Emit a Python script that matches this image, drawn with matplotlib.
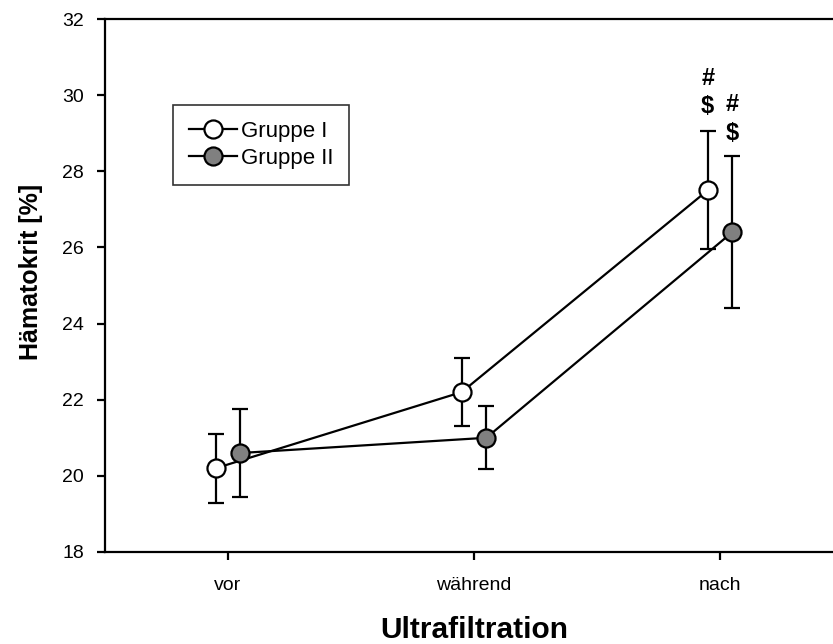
import matplotlib.pyplot as plt
from matplotlib.lines import Line2D
import numpy as np

plt.rcParams['font.family'] = ['Liberation Sans', 'DejaVu Sans']

# data
phases = ['vor', 'während', 'nach']
gruppe1_mean = [20.2, 22.2, 27.5]
gruppe1_err = [0.9, 0.9, 1.55]
gruppe2_mean = [20.6, 21.0, 26.4]
gruppe2_err = [1.15, 0.83, 2.0]

x = np.arange(1, len(phases) + 1)
offset = 0.05

fig = plt.figure(figsize=(8.33, 6.44), dpi=100)
ax = fig.add_axes([105 / 833, (644 - 552) / 644, (843 - 105) / 833, (552 - 19) / 644])

style = dict(color='black', lw=1.6, marker='o', ms=13, mec='black', mew=1.6)
ax.errorbar(x - offset, gruppe1_mean, yerr=gruppe1_err, mfc='white',
            capsize=5.8, capthick=1.6, elinewidth=1.6, zorder=3, **style)
ax.errorbar(x + offset, gruppe2_mean, yerr=gruppe2_err, mfc='#808080',
            capsize=5.8, capthick=1.6, elinewidth=1.6, zorder=3, **style)

# significance marks above "nach"
ax.text(x[2] - offset, 30.45, '#', ha='center', va='center', fontsize=17, fontweight='bold')
ax.text(x[2] - offset, 29.7, '$', ha='center', va='center', fontsize=17, fontweight='bold')
ax.text(x[2] + offset, 29.75, '#', ha='center', va='center', fontsize=17, fontweight='bold')
ax.text(x[2] + offset, 29.0, '$', ha='center', va='center', fontsize=17, fontweight='bold')

ax.set_xlim(0.5, 3.5)
ax.set_ylim(18, 32)
ax.set_yticks(np.arange(18, 33, 2))
ax.set_xticks(x)
ax.set_xticklabels(phases)
ax.tick_params(axis='both', direction='out', length=6, width=1.6, labelsize=14)
ax.tick_params(axis='x', pad=12)
ax.tick_params(axis='y', pad=9)

for side in ['left', 'bottom', 'top']:
    ax.spines[side].set_linewidth(1.6)
ax.spines['right'].set_visible(False)

ax.set_ylabel('Hämatokrit [%]', fontsize=18, fontweight='bold')
ax.yaxis.set_label_coords(-0.084, 0.525)
ax.set_xlabel('Ultrafiltration', fontsize=21.5, fontweight='bold', labelpad=16)

handles = [Line2D([], [], mfc='white', **style),
           Line2D([], [], mfc='#808080', **style)]
leg = ax.legend(handles, ['Gruppe I', 'Gruppe II'], loc='upper left',
                bbox_to_anchor=(68 / 738, 1 - 86 / 533), fontsize=16,
                frameon=True, fancybox=False, edgecolor='black', borderpad=0.7,
                handlelength=2.2, handletextpad=0.15, labelspacing=0.3, borderaxespad=0)
leg.get_frame().set_linewidth(1.2)

fig.savefig('out.png', dpi=100)
